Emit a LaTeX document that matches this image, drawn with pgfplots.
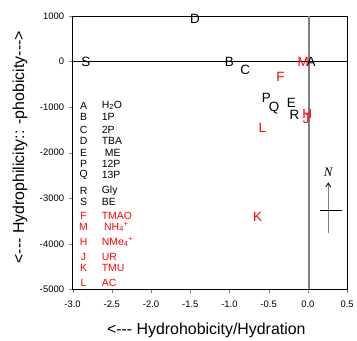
\documentclass[border=0pt]{standalone}
\usepackage{fontspec}
\setmainfont{Liberation Sans}
\newfontfamily\serifit{Liberation Serif}
\usepackage{pgfplots}
\pgfplotsset{compat=1.18}
\usepackage{pgfplotstable}
\usetikzlibrary{arrows.meta}

\pgfplotstableread{
x y lab
-2.83 0 S
-1.44 930 D
-1.00 0 B
-0.80 -180 C
0.04 0 A
-0.53 -790 P
-0.43 -1030 Q
-0.21 -900 E
-0.17 -1180 R
}\blackpts
\pgfplotstableread{
x y lab
-0.06 0 M
-0.35 -330 F
-0.02 -1270 J
-0.01 -1160 H
-0.58 -1450 L
-0.64 -3410 K
}\redpts

\begin{document}
\begin{tikzpicture}
\begin{axis}[
 scale only axis, width=276pt, height=275pt,
 xmin=-3, xmax=0.5, ymin=-5000, ymax=1000,
 xtick={-3,-2.5,-2,-1.5,-1,-0.5,0,0.5},
 ytick={-5000,-4000,-3000,-2000,-1000,0,1000},
 tick align=outside, xtick pos=bottom, ytick pos=left,
 major tick length=4pt,
 xticklabel style={yshift=-4pt, /pgf/number format/fixed, /pgf/number format/fixed zerofill, /pgf/number format/precision=1},
 yticklabel style={xshift=-1pt, /pgf/number format/set thousands separator={}},
 /pgf/number format/assume math mode=true,
 tick label style={font=\fontsize{9.5}{11}\selectfont},
 xlabel={<-{}-{}- Hydrohobicity/Hydration},
 ylabel={<-{}-{}- Hydrophilicity:: -phobicity-{}-{}->},
 every axis x label/.style={at={(axis description cs:0.487,-0.149)}, anchor=center},
 every axis y label/.style={at={(axis description cs:-0.192,0.52)}, anchor=center, rotate=90},
 label style={font=\fontsize{16}{18}\selectfont},
 clip=false,
]
\addplot[black, line width=0.6pt] coordinates {(-3,0) (0.5,0)};
\addplot[gray, line width=1.6pt] coordinates {(0.017,-5000) (0.017,1000)};
\addplot[only marks, mark=none, nodes near coords, point meta=explicit symbolic,
  nodes near coords align=center,
  every node near coord/.append style={font=\fontsize{13.5}{15}\selectfont, anchor=center, text=black, inner sep=0pt}]
  table[meta=lab] {\blackpts};
\addplot[only marks, mark=none, nodes near coords, point meta=explicit symbolic,
  nodes near coords align=center,
  every node near coord/.append style={font=\fontsize{13.5}{15}\selectfont, anchor=center, text=red, inner sep=0pt}]
  table[meta=lab] {\redpts};
% N arrow
\addplot[gray, line width=1.1pt, -{Straight Barb[black, length=4pt, width=5pt, line width=0.8pt]}] coordinates {(0.26,-3760) (0.26,-2650)};
\addplot[black, line width=0.7pt] coordinates {(0.16,-3258) (0.43,-3258)};
\node[font=\fontsize{13}{15}\selectfont] at (axis cs:0.26,-2430) {\serifit\itshape N};
% legend text
\begin{scope}[every node/.style={font=\fontsize{10.5}{12}\selectfont, inner sep=0pt}]
\node at (axis cs:-2.86,-965) {A};  \node[anchor=west] at (axis cs:-2.63,-965) {H\textsubscript{2}O};
\node at (axis cs:-2.86,-1205) {B}; \node[anchor=west] at (axis cs:-2.63,-1205) {1P};
\node at (axis cs:-2.86,-1490) {C}; \node[anchor=west] at (axis cs:-2.63,-1490) {2P};
\node at (axis cs:-2.86,-1750) {D}; \node[anchor=west] at (axis cs:-2.63,-1750) {TBA};
\node at (axis cs:-2.86,-2010) {E}; \node[anchor=west] at (axis cs:-2.59,-2010) {ME};
\node at (axis cs:-2.86,-2250) {P}; \node[anchor=west] at (axis cs:-2.63,-2250) {12P};
\node at (axis cs:-2.86,-2490) {Q}; \node[anchor=west] at (axis cs:-2.63,-2490) {13P};
\node at (axis cs:-2.86,-2840) {R}; \node[anchor=west] at (axis cs:-2.63,-2840) {Gly};
\node at (axis cs:-2.86,-3080) {S}; \node[anchor=west] at (axis cs:-2.63,-3080) {BE};
\node[red] at (axis cs:-2.86,-3390) {F}; \node[red,anchor=west] at (axis cs:-2.63,-3390) {TMAO};
\node[red] at (axis cs:-2.86,-3630) {M}; \node[red,anchor=west] at (axis cs:-2.60,-3630) {NH\textsubscript{4}\textsuperscript{+}};
\node[red] at (axis cs:-2.86,-3960) {H}; \node[red,anchor=west] at (axis cs:-2.63,-3960) {NMe\textsubscript{4}\textsuperscript{+}};
\node[red] at (axis cs:-2.86,-4280) {J}; \node[red,anchor=west] at (axis cs:-2.63,-4280) {UR};
\node[red] at (axis cs:-2.86,-4520) {K}; \node[red,anchor=west] at (axis cs:-2.63,-4520) {TMU};
\node[red] at (axis cs:-2.86,-4850) {L}; \node[red,anchor=west] at (axis cs:-2.63,-4850) {AC};
\end{scope}
\end{axis}
\path (current axis.south west) ++(-73pt,-48pt) rectangle ++(357pt,339pt);
\end{tikzpicture}
\end{document}
